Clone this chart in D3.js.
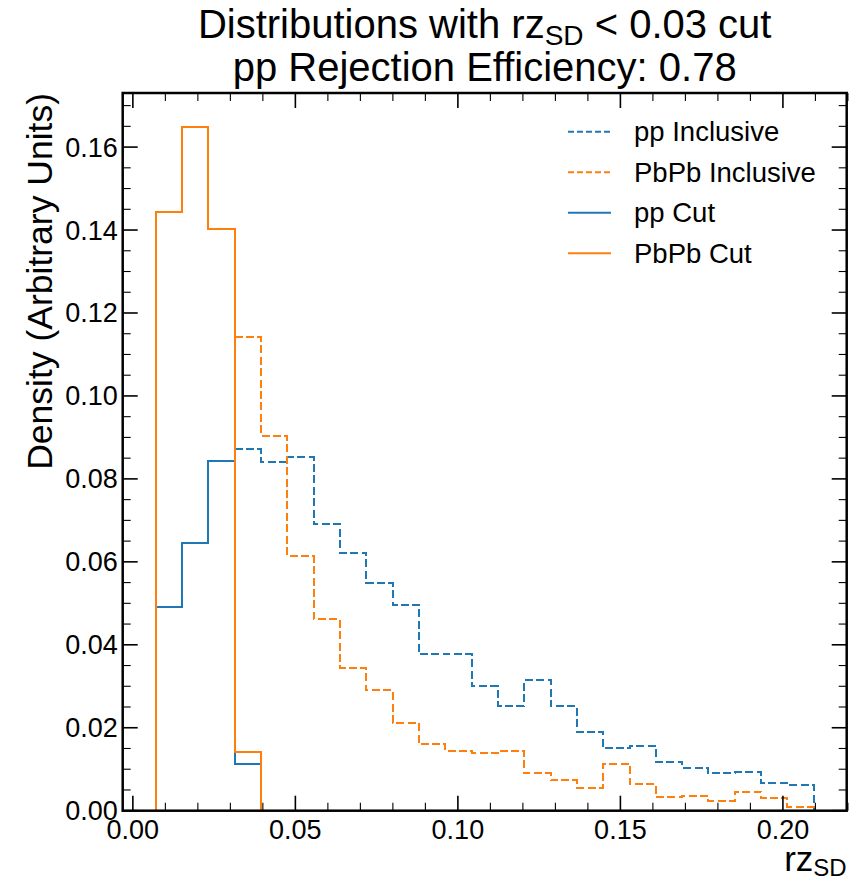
<!DOCTYPE html>
<html>
<head>
<meta charset="utf-8">
<script src="https://cdn.jsdelivr.net/npm/d3@7"></script>
<style>
  body { margin: 0; background: #fff; }
  svg text { font-family: "Liberation Sans", Arial, sans-serif; fill: #000; }
</style>
</head>
<body>
<div id="chart"></div>
<script>
// bin edges of rz_SD (25 bins)
var binEdges = [0.0070, 0.0151, 0.0232, 0.0313, 0.0394, 0.0475, 0.0556, 0.0637, 0.0718, 0.0799,
                0.0880, 0.0961, 0.1042, 0.1123, 0.1204, 0.1285, 0.1366, 0.1447, 0.1528, 0.1609,
                0.1690, 0.1771, 0.1852, 0.1933, 0.2014, 0.2095];

// cut histograms, first bins only (rest are empty)
var cutStartBin = 0;
var ppCut   = [0.0490, 0.0646, 0.0843, 0.0113];
var pbpbCut = [0.1443, 0.1648, 0.1402, 0.0141];

// inclusive histograms, visible from bin 3 on (lower bins lie under the cut lines)
var inclStartBin = 3;
var ppIncl   = [0.0871, 0.0841, 0.0852, 0.0691, 0.0622, 0.0549, 0.0497, 0.0378, 0.0377, 0.0300, 0.0253,
                0.0315, 0.0252, 0.0190, 0.0150, 0.0156, 0.0118, 0.0104, 0.0091, 0.0093, 0.0066, 0.0062];
var pbpbIncl = [0.1141, 0.0904, 0.0614, 0.0462, 0.0345, 0.0290, 0.0212, 0.0160, 0.0143, 0.0138, 0.0145,
                0.0090, 0.0073, 0.0055, 0.0113, 0.0064, 0.0033, 0.0036, 0.0023, 0.0046, 0.0030, 0.0010];

var xTicks = [0.00, 0.05, 0.10, 0.15, 0.20];
var yTicks = [0.00, 0.02, 0.04, 0.06, 0.08, 0.10, 0.12, 0.14, 0.16];

var legendNames = ["pp Inclusive", "PbPb Inclusive", "pp Cut", "PbPb Cut"];

var blue = "#1f77b4", orange = "#ff7f0e";
var dash = "8,3.4";

var W = 853, H = 879;
var margin = { top: 93, right: W - 846.7, bottom: H - 810.7, left: 122.7 };

var svg = d3.select("#chart").append("svg")
    .attr("width", W)
    .attr("height", H);

// matplotlib style 5% margins in x, 5% headroom in y
var xMin = binEdges[0], xMax = binEdges[binEdges.length - 1];
var xPad = (xMax - xMin) * 0.05;
var yTop = d3.max(pbpbCut.concat(ppCut, ppIncl, pbpbIncl)) * 1.05;

var x = d3.scaleLinear()
    .domain([xMin - xPad, xMax + xPad])
    .range([margin.left, W - margin.right]);
var y = d3.scaleLinear()
    .domain([0, yTop])
    .range([H - margin.bottom, margin.top]);

// step outline; fromZero=false skips the rising edge hidden under the cut lines
function stepPoints(values, start, fromZero) {
    var pts = fromZero ? [[binEdges[start], 0]] : [];
    values.forEach(function (v, i) {
        pts.push([binEdges[start + i], v]);
        pts.push([binEdges[start + i + 1], v]);
    });
    pts.push([binEdges[start + values.length], 0]);
    return pts;
}

var line = d3.line()
    .x(function (d) { return x(d[0]); })
    .y(function (d) { return y(d[1]); });

var plot = svg.append("g");

var hists = [
    { values: ppIncl, start: inclStartBin, color: blue, dashed: true },
    { values: pbpbIncl, start: inclStartBin, color: orange, dashed: true },
    { values: ppCut, start: cutStartBin, color: blue, dashed: false },
    { values: pbpbCut, start: cutStartBin, color: orange, dashed: false }
];

hists.forEach(function (h) {
    plot.append("path")
        .attr("d", line(stepPoints(h.values, h.start, !h.dashed)))
        .attr("fill", "none")
        .attr("stroke", h.color)
        .attr("stroke-width", 2)
        .attr("stroke-dasharray", h.dashed ? dash : null)
        .attr("shape-rendering", "crispEdges");
});

// ticks, inward on all four sides
var x0 = x.range()[0], x1 = x.range()[1], y0 = y.range()[0], y1 = y.range()[1];
var ticks = svg.append("g").attr("stroke", "#000");

var xMinor = d3.range(0, 0.2201, 0.01);
var yMinor = d3.range(0, 0.1731, 0.005);

xMinor.forEach(function (t) {
    var major = xTicks.some(function (m) { return Math.abs(m - t) < 1e-6; });
    var len = major ? 15 : 8;
    ticks.append("line").attr("x1", x(t)).attr("x2", x(t)).attr("y1", y0).attr("y2", y0 - len)
        .attr("stroke-width", major ? 1.6 : 1.1);
    ticks.append("line").attr("x1", x(t)).attr("x2", x(t)).attr("y1", y1).attr("y2", y1 + len)
        .attr("stroke-width", major ? 1.6 : 1.1);
});
yMinor.forEach(function (t) {
    var major = yTicks.some(function (m) { return Math.abs(m - t) < 1e-6; });
    var len = major ? 15 : 8;
    ticks.append("line").attr("y1", y(t)).attr("y2", y(t)).attr("x1", x0).attr("x2", x0 + len)
        .attr("stroke-width", major ? 1.6 : 1.1);
    ticks.append("line").attr("y1", y(t)).attr("y2", y(t)).attr("x1", x1).attr("x2", x1 - len)
        .attr("stroke-width", major ? 1.6 : 1.1);
});

// frame
svg.append("rect")
    .attr("x", x0).attr("y", y1)
    .attr("width", x1 - x0).attr("height", y0 - y1)
    .attr("fill", "none")
    .attr("stroke", "#000")
    .attr("stroke-width", 2.5);

// tick labels
svg.append("g").selectAll("text")
    .data(xTicks)
    .enter().append("text")
    .attr("x", function (d) { return x(d); })
    .attr("y", y0 + 28)
    .attr("text-anchor", "middle")
    .style("font-size", "27px")
    .text(function (d) { return d.toFixed(2); });

svg.append("g").selectAll("text")
    .data(yTicks)
    .enter().append("text")
    .attr("x", x0 - 5)
    .attr("y", function (d) { return y(d) + 9.5; })
    .attr("text-anchor", "end")
    .style("font-size", "27px")
    .text(function (d) { return d.toFixed(2); });

// axis labels (top / right aligned)
svg.append("text")
    .attr("transform", "translate(52," + y1 + ") rotate(-90)")
    .attr("text-anchor", "end")
    .style("font-size", "35.5px")
    .text("Density (Arbitrary Units)");

var xl = svg.append("text")
    .attr("x", x1)
    .attr("y", 871)
    .attr("text-anchor", "end")
    .style("font-size", "35px");
xl.append("tspan").text("rz");
xl.append("tspan").attr("dy", 5).style("font-size", "24px").text("SD");

// title
var cx = (x0 + x1) / 2;
var t1 = svg.append("text")
    .attr("x", cx).attr("y", 38)
    .attr("text-anchor", "middle")
    .style("font-size", "40px");
t1.append("tspan").text("Distributions with rz");
t1.append("tspan").attr("dy", 7).style("font-size", "28px").text("SD");
t1.append("tspan").attr("dy", -7).text(" < 0.03 cut");

svg.append("text")
    .attr("x", cx).attr("y", 81)
    .attr("text-anchor", "middle")
    .style("font-size", "40px")
    .text("pp Rejection Efficiency: 0.78");

// legend
var legend = svg.append("g");
hists.forEach(function (h, i) {
    var ly = 131.7 + i * 40.5;
    legend.append("line")
        .attr("x1", 568).attr("x2", 611)
        .attr("y1", ly).attr("y2", ly)
        .attr("stroke", h.color)
        .attr("stroke-width", 2)
        .attr("stroke-dasharray", h.dashed ? "6,3" : null);
    legend.append("text")
        .attr("x", 634)
        .attr("y", ly + 9.5)
        .style("font-size", "27.5px")
        .text(legendNames[i]);
});
</script>
</body>
</html>
